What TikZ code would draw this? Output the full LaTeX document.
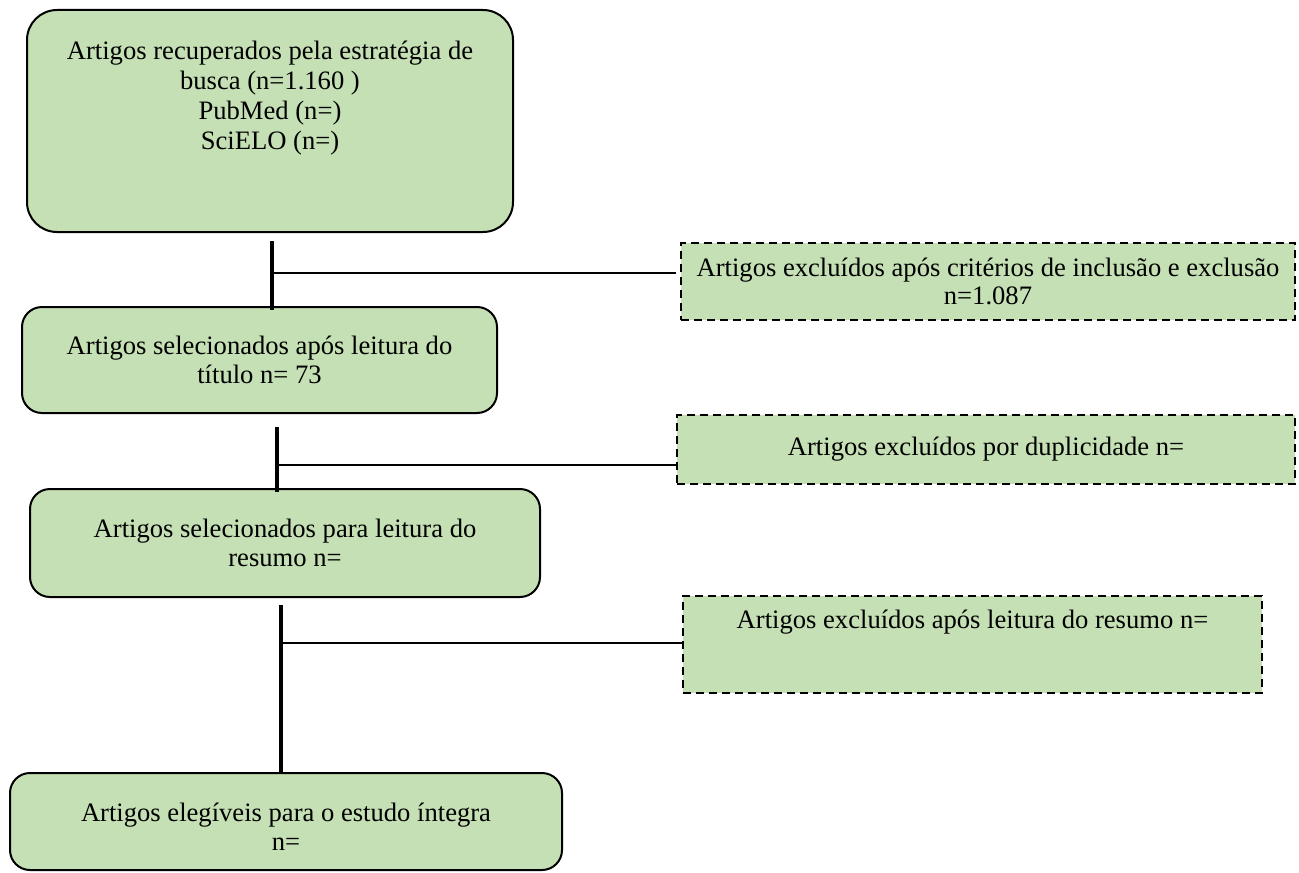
\documentclass[tikz,border=0pt]{standalone}
\usepackage{fontspec}
\setmainfont{Liberation Serif}
\definecolor{boxgreen}{HTML}{C5E0B4}
\newdimen\px
\px=0.5pt
\tikzset{
  stagebox/.style={draw=black, line width=1pt, fill=boxgreen, rounded corners=#1, inner sep=0pt, align=center},
  stagebox/.default=10pt,
  exclbox/.style={draw=black, line width=1pt, dash pattern=on 4pt off 2.5pt, fill=boxgreen, inner sep=0pt, align=center},
  boxsize/.style 2 args={minimum width=#1*\px, minimum height=#2*\px},
  boxtext/.style={align=center, inner sep=0pt},
  trunk/.style={line width=1.7pt},
  branch/.style={line width=0.6pt}
}
\begin{document}
\begin{tikzpicture}[x=0.5pt, y=-0.5pt, font=\fontsize{13.3}{14.3}\selectfont]
\useasboundingbox (0,0) rectangle (1299,872);
% etapas
\node[stagebox=15pt, boxsize={486}{222}] (busca) at (270,121) {};
\node[boxtext, anchor=north, font=\fontsize{13.3}{15}\selectfont] (buscatxt) at ([yshift=-16pt]busca.north)
  {Artigos recuperados pela estratégia de\\ busca (n=1.160 )\\ PubMed (n=)\\ SciELO (n=)};
\node[stagebox, boxsize={475}{106}] (titulo) at (259.5,360)
  {Artigos selecionados após leitura do\\ título n= 73};
\node[stagebox, boxsize={510}{108}] (resumo) at (285,543)
  {Artigos selecionados para leitura do\\ resumo n=};
\node[stagebox, boxsize={552}{97}] (integra) at (286,821.5) {};
\node[boxtext, anchor=north] (integratxt) at ([yshift=-15.5pt]integra.north)
  {Artigos elegíveis para o estudo íntegra\\ n=};
% excluidos
\node[exclbox, boxsize={614}{77}] (excl1) at (988,281.5)
  {Artigos excluídos após critérios de inclusão e exclusão\\ n=1.087};
\node[exclbox, boxsize={618}{69}] (excl2) at (986,449.5)
  {Artigos excluídos por duplicidade n=};
\node[exclbox, boxsize={579}{97}] (excl3) at (972.5,644.5) {};
\node[boxtext, anchor=north] (excl3txt) at ([yshift=-7.5pt]excl3.north)
  {Artigos excluídos após leitura do resumo n=};
% linhas
\coordinate (t1) at (272,241);
\coordinate (j1) at (272,273);
\coordinate (t2) at (277,427);
\coordinate (j2) at (277,465);
\coordinate (t3) at (281,605);
\coordinate (j3) at (281,643);
\draw[trunk] (t1) -- ([yshift=-2pt]t1 |- titulo.north);
\draw[trunk] (t2) -- ([yshift=-2pt]t2 |- resumo.north);
\draw[trunk] (t3) -- ([yshift=-1pt]t3 |- integra.north);
\draw[branch] (j1) -- ([xshift=-2pt]j1 -| excl1.west);
\draw[branch] (j2) -- (j2 -| excl2.west);
\draw[branch] (j3) -- (j3 -| excl3.west);
\end{tikzpicture}
\end{document}
